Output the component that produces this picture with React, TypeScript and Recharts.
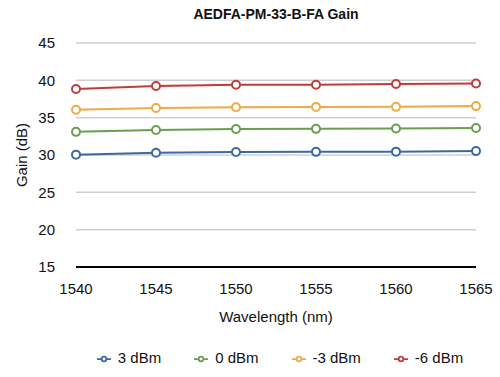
import { LineChart, Line, XAxis, YAxis, CartesianGrid, Legend } from 'recharts';

const wavelengths = [1540, 1545, 1550, 1555, 1560, 1565];
const gain3dBm = [30.05, 30.3, 30.4, 30.42, 30.45, 30.52];
const gain0dBm = [33.1, 33.35, 33.48, 33.5, 33.55, 33.62];
const gainMinus3dBm = [36.05, 36.3, 36.4, 36.42, 36.45, 36.55];
const gainMinus6dBm = [38.85, 39.25, 39.4, 39.42, 39.5, 39.58];
const yTicks = [15, 20, 25, 30, 35, 40, 45];

// keys s1..s4 so the legend (sorted by dataKey) keeps this order
const SERIES = [
  { key: 's1', name: '3 dBm', color: '#3b6a9c', values: gain3dBm },
  { key: 's2', name: '0 dBm', color: '#6a9e4e', values: gain0dBm },
  { key: 's3', name: '-3 dBm', color: '#eeaa44', values: gainMinus3dBm },
  { key: 's4', name: '-6 dBm', color: '#c23b3b', values: gainMinus6dBm },
];

const FONT = '"Liberation Sans", Arial, Helvetica, sans-serif';

export default function App() {
  const data = wavelengths.map((w, i) => {
    const row: Record<string, number> = { w };
    SERIES.forEach((s) => (row[s.key] = s.values[i]));
    return row;
  });

  return (
    <div style={{ position: 'absolute', left: 0, top: 0, width: 500, height: 377, background: '#fff', fontFamily: FONT }}>
      <div
        style={{
          position: 'absolute',
          left: 76,
          width: 400,
          top: 6,
          textAlign: 'center',
          fontWeight: 'bold',
          fontSize: 14,
          color: '#111',
        }}
      >
        AEDFA-PM-33-B-FA Gain
      </div>
      <LineChart width={500} height={377} data={data} margin={{ top: 43, right: 24, bottom: 50, left: 16 }}>
        <CartesianGrid horizontal vertical={false} stroke="#cfcfcf" strokeWidth={1.5} />
        <XAxis
          dataKey="w"
          type="number"
          domain={[1540, 1565]}
          ticks={wavelengths}
          height={60}
          tickSize={0}
          tickMargin={16}
          tickLine={false}
          axisLine={{ stroke: '#000', strokeWidth: 2 }}
          tick={{ fontSize: 15, fill: '#111', fontFamily: FONT }}
          label={{ value: 'Wavelength (nm)', position: 'insideBottom', offset: 5, fontSize: 15, fill: '#111', fontFamily: FONT }}
        />
        <YAxis
          type="number"
          domain={[15, 45]}
          ticks={yTicks}
          width={60}
          tickSize={0}
          tickMargin={21}
          tickLine={false}
          axisLine={false}
          tick={{ fontSize: 15, fill: '#111', fontFamily: FONT }}
          label={{
            value: 'Gain (dB)',
            angle: -90,
            position: 'insideLeft',
            offset: 6,
            fontSize: 15,
            fill: '#111',
            fontFamily: FONT,
            style: { textAnchor: 'middle' },
          }}
        />
        <Legend
          layout="horizontal"
          verticalAlign="middle"
          align="center"
          iconType="line"
          iconSize={14}
          itemSorter="dataKey"
          wrapperStyle={{ top: 349, left: 93, width: 407, textAlign: 'left', whiteSpace: 'nowrap' }}
          formatter={(value) => (
            <span style={{ color: '#111', fontSize: 15, fontFamily: FONT, marginLeft: 3, marginRight: 23 }}>{value}</span>
          )}
        />
        {SERIES.map((s) => (
          <Line
            key={s.key}
            dataKey={s.key}
            name={s.name}
            type="linear"
            stroke={s.color}
            strokeWidth={2}
            dot={{ r: 4, fill: '#fff', stroke: s.color, strokeWidth: 2 }}
            isAnimationActive={false}
          />
        ))}
      </LineChart>
    </div>
  );
}
